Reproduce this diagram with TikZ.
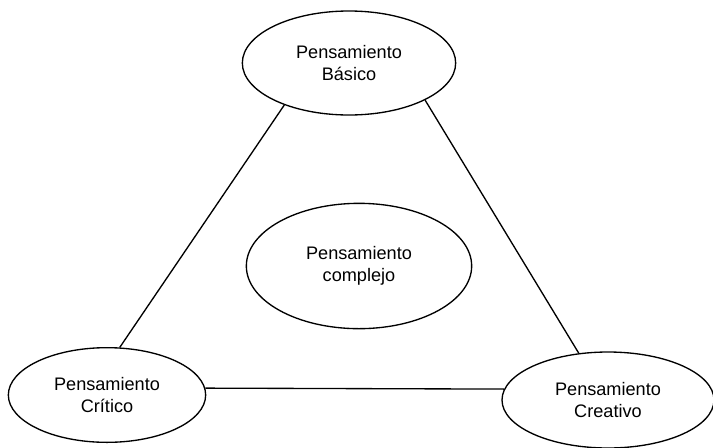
\documentclass[tikz,border=0pt]{standalone}
\usepackage{fontspec}
\setmainfont{Liberation Sans}
\usetikzlibrary{shapes.geometric}
\tikzset{
thought/.style={
  ellipse, draw=black, line width=1pt, inner sep=0pt,
  align=center, font=\fontsize{13.6}{16.5}\selectfont
  },
link/.style={line width=1pt}
}

\begin{document}
\begin{tikzpicture}[x=0.75pt,y=-0.75pt]
\useasboundingbox (0,0) rectangle (713,447);

\node[thought, minimum width=160pt, minimum height=78pt] at (349,63)
(basico) {Pensamiento\\ Básico};
\node[thought, minimum width=169pt, minimum height=94pt] at (359,266)
(complejo) {Pensamiento\\ complejo};
\node[thought, minimum width=148pt, minimum height=71pt] at (107,395)
(critico) {Pensamiento\\ Crítico};
\node[thought, minimum width=159pt, minimum height=72pt] at (608,400)
(creativo) {Pensamiento\\ Creativo};

% triangle
\draw[link] (basico.213) -- (critico.75);
\draw[link] (basico.334) -- (creativo.122);
\draw[link] (critico.4) -- (creativo.174);

\end{tikzpicture}
\end{document}
